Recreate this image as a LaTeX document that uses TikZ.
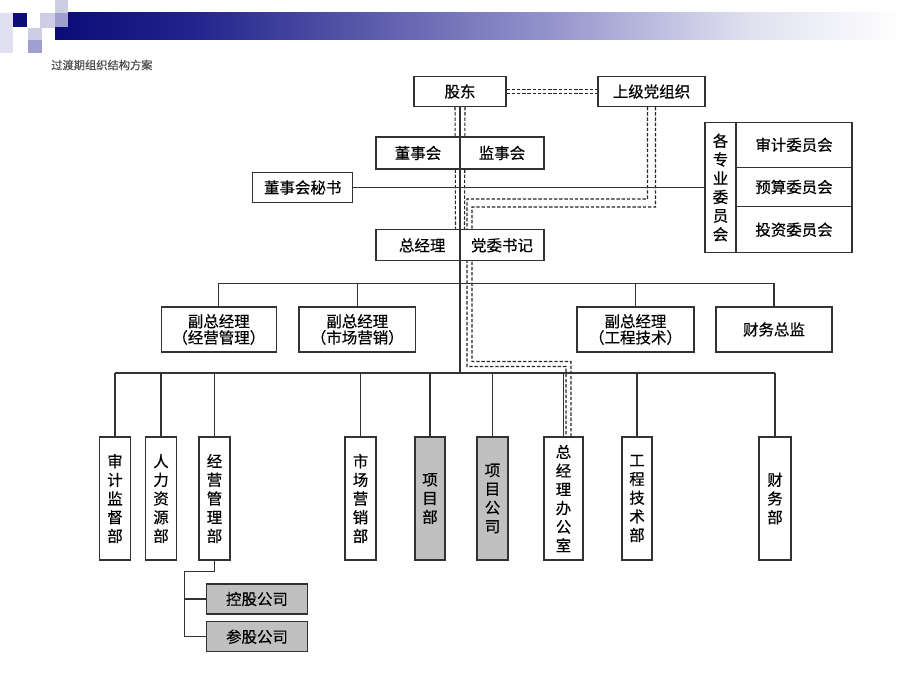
\documentclass[tikz,border=0pt]{standalone}
\usepackage{fontspec}
\setmainfont{Noto Sans CJK SC}[FakeBold=0.4]
\usetikzlibrary{calc,positioning}

\definecolor{navyA}{RGB}{12,12,120}
\definecolor{navyB}{RGB}{35,35,140}
\definecolor{lavA}{RGB}{150,150,205}
\definecolor{lavB}{RGB}{224,224,240}
\definecolor{lavC}{RGB}{205,205,230}
\definecolor{lavD}{RGB}{160,160,208}
\definecolor{boxgray}{RGB}{192,192,192}
\definecolor{linegray}{RGB}{50,50,50}

\pgfdeclarehorizontalshading{bannershade}{100bp}{color(0bp)=(navyA); color(25bp)=(navyA); color(33bp)=(navyB); color(54bp)=(lavA); color(65bp)=(lavB); color(74bp)=(white); color(100bp)=(white)}

\pgfdeclarelayer{back}
\pgfdeclarelayer{wires}
\pgfsetlayers{back,wires,main}

\newlength{\px}
\setlength{\px}{0.025cm}

\tikzset{
  box/.style={draw=linegray, line width=0.75pt, fill=white, inner sep=0pt, align=center, font=\fontsize{11}{11.5}\selectfont},
  graybox/.style={box, fill=boxgray},
  tall/.style={font=\fontsize{11}{13.3}\selectfont},
  wh/.style 2 args={minimum width=#1*\px, minimum height=#2*\px},
  wire/.style={draw=linegray, line width=0.8pt},
  partyline/.style={draw=black!85, line width=0.75pt, dash pattern=on 2.4pt off 1.3pt},
}

\begin{document}
\begin{tikzpicture}[x=0.025cm, y=-0.025cm]
\useasboundingbox (0,0) rectangle (920,690);

% top of the organisation
\node[box, wh={92}{30}] (holders) at (460,91.5) {股东};
\node[box, wh={107}{30}] (party) at (651.5,91.5) {上级党组织};
\node[box, wh={84}{32}] (board) at (418,153) {董事会};
\node[box, wh={84}{32}] (supervisors) at (502,153) {监事会};
\node[box, wh={100}{30.5}] (secretary) at (302.7,187.5) {董事会秘书};
\node[box, wh={84}{30.7}] (gm) at (418,245.3) {\hspace*{6pt}总经理};
\node[box, wh={84}{30.7}] (partysec) at (502,245.3) {党委书记};

% committees
\node[box, tall, wh={31}{130.4}] (committee) at (720.5,187.5) {各\\专\\业\\委\\员\\会};
\node[box, wh={116}{45}] (audit) at (794,144.8) {审计委员会};
\node[box, wh={116}{39.4}] (budget) at (794,187) {预算委员会};
\node[box, wh={116}{46}] (invest) at (794,229.7) {投资委员会};

% deputies
\node[box, wh={115.5}{45}] (vp1) at (218.8,329.5) {副总经理\\（经营管理）};
\node[box, wh={116.6}{45}] (vp2) at (357.3,329.5) {副总经理\\（市场营销）};
\node[box, wh={117}{45}] (vp3) at (635.5,329.5) {副总经理\\（工程技术）};
\node[box, wh={116}{45}] (cfo) at (774,329.5) {财务总监};

% departments
\node[box, tall, wh={31.4}{123}] (d1) at (115,498.5) {审\\计\\监\\督\\部};
\node[box, tall, wh={31.7}{123}] (d2) at (161,498.5) {人\\力\\资\\源\\部};
\node[box, tall, wh={31}{123}] (d3) at (214.5,498.5) {经\\营\\管\\理\\部};
\node[box, tall, wh={31}{123}] (d4) at (360.5,498.5) {市\\场\\营\\销\\部};
\node[graybox, tall, wh={30}{123}] (d5) at (430,498.5) {项\\目\\部};
\node[graybox, tall, wh={31}{123}] (d6) at (492.5,498.5) {项\\目\\公\\司};
\node[box, tall, wh={39}{123}] (d7) at (563.5,498.5) {总\\经\\理\\办\\公\\室};
\node[box, tall, wh={30}{123}] (d8) at (637,498.5) {工\\程\\技\\术\\部};
\node[box, tall, wh={32}{123}] (d9) at (775,498.5) {财\\务\\部};

\node[graybox, wh={100.6}{30}] (subA) at (257,599) {控股公司};
\node[graybox, wh={100.6}{30}] (subB) at (257,636.7) {参股公司};

\coordinate (hub1) at (460,283.3);
\coordinate (hub2) at (460,373);
\coordinate (fork) at (184.3,571.7);

\node[anchor=west, inner sep=0pt, text=black!70, font=\fontsize{8}{8}\selectfont] (title) at (51,65) {过渡期组织结构方案};

\begin{pgfonlayer}{back}
\fill[white] (0,0) rectangle (920,690);
\shade[shading=bannershade] (55,13) rectangle (920,40);
\fill[lavB] (0,13) rectangle (13,53);
\fill[navyA] (13,13) rectangle (27,27);
\fill[lavC] (40,13) rectangle (55,28);
\fill[lavC] (28,28) rectangle (42,40);
\fill[lavD] (28,40) rectangle (42,53);
\fill[lavC] (55,0) rectangle (68,13);
\fill[lavD] (55,13) rectangle (68,27);
\end{pgfonlayer}

\begin{pgfonlayer}{wires}
% party links, double dashed
\draw[partyline] ($(holders.east)+(0,-2.3)$) -- ($(party.west)+(0,-2.3)$);
\draw[partyline] ($(holders.east)+(0,2.3)$) -- ($(party.west)+(0,2.3)$);
\draw[partyline] ($(holders.south)+(-5,0)$) -- ($(gm.north east)+(-5,0)$);
\draw[partyline] ($(holders.south)+(5,0)$) -- ($(partysec.north west)+(5,0)$);
\draw[partyline] ($(party.south)+(-4,0)$) |- (467,199) |- (566,366.5) -- ($(d7.north)+(2.5,0)$);
\draw[partyline] ($(party.south)+(4,0)$) |- (472,207) |- (571,361.5) -- ($(d7.north)+(7.5,0)$);

% solid lines
\draw[wire, line width=1.2pt] (holders.south) -- (hub2);
\draw[wire] (secretary.east) -- (committee.west);
\draw[wire] (vp1.north |- hub1) -- (cfo.north |- hub1);
\foreach \n in {vp1,vp2,vp3,cfo}
  \draw[wire] (\n.north |- hub1) -- (\n.north);
\draw[wire] (d1.north |- hub2) -- (d9.north |- hub2);
\foreach \i in {1,...,9}
  \draw[wire] (d\i.north |- hub2) -- (d\i.north);
\draw[wire] (d3.south) |- (fork) |- (subB.west);
\draw[wire] (fork |- subA.west) -- (subA.west);
\end{pgfonlayer}

\end{tikzpicture}
\end{document}
